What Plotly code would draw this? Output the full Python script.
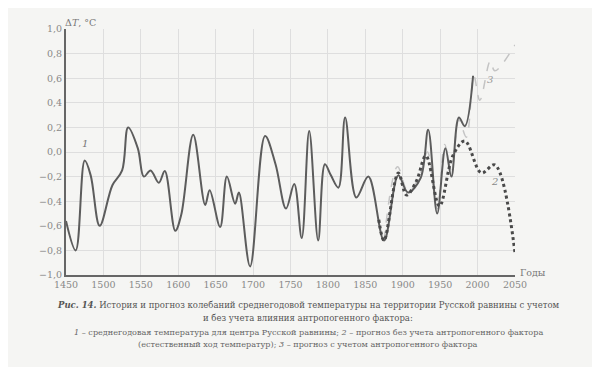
import plotly.graph_objects as go

# Curve 1: observed mean annual temperature (centre of Russian Plain)
years_obs = [1450, 1463, 1475, 1483, 1495, 1512, 1525, 1533, 1546, 1554, 1563, 1574, 1582,
             1596, 1604, 1620, 1636, 1642, 1656, 1665, 1676, 1681, 1696, 1716, 1730, 1744,
             1755, 1765, 1775, 1787, 1796, 1804, 1814, 1823, 1838, 1854, 1875, 1894, 1907,
             1924, 1934, 1946, 1957, 1965, 1975, 1983, 1994]
temp_obs = [-0.56, -0.80, -0.07, -0.19, -0.60, -0.27, -0.15, 0.20, 0.03, -0.20, -0.15, -0.25, -0.155,
            -0.64, -0.51, 0.14, -0.43, -0.31, -0.61, -0.20, -0.42, -0.33, -0.93, 0.13, -0.10, -0.46,
            -0.26, -0.70, 0.17, -0.72, -0.10, -0.19, -0.29, 0.28, -0.37, -0.20, -0.72, -0.19, -0.33,
            -0.21, 0.18, -0.50, 0.03, -0.20, 0.28, 0.21, 0.62]

# Curve 2: forecast without anthropogenic factor
years_nat = [1868, 1875, 1894, 1905, 1918, 1931, 1949, 1967, 1983, 2005, 2023, 2050]
temp_nat = [-0.55, -0.72, -0.17, -0.35, -0.24, -0.03, -0.44, -0.03, 0.09, -0.17, -0.105, -0.82]

# Curve 3: forecast with anthropogenic factor
years_ant = [1875, 1893, 1907, 1922, 1933, 1946, 1956, 1965, 1975, 1985, 1995, 2003, 2017, 2023, 2050]
temp_ant = [-0.72, -0.12, -0.32, -0.20, 0.00, -0.46, 0.06, -0.15, 0.26, 0.12, 0.62, 0.42, 0.74, 0.66, 0.87]

x_ticks = list(range(1450, 2051, 50))
y_ticks = [-1.0, -0.8, -0.6, -0.4, -0.2, 0.0, 0.2, 0.4, 0.6, 0.8, 1.0]
y_ticktext = ["\u22121,0", "\u22120,8", "\u22120,6", "\u22120,4", "\u22120,2", "0,0",
              "0,2", "0,4", "0,6", "0,8", "1,0"]

FONT = "DejaVu Serif"

fig = go.Figure()
fig.add_trace(go.Scatter(x=years_ant, y=temp_ant, mode="lines",
                         line=dict(color="#c4c4c4", width=1.5, dash="dash", shape="spline"),
                         hoverinfo="skip"))
fig.add_trace(go.Scatter(x=years_obs, y=temp_obs, mode="lines",
                         line=dict(color="#5c5c5c", width=2, shape="spline"),
                         hoverinfo="skip"))
fig.add_trace(go.Scatter(x=years_nat, y=temp_nat, mode="lines",
                         line=dict(color="#4a4a4a", width=3, dash="dot", shape="spline"),
                         hoverinfo="skip"))

annotations = [
    dict(x=1476, y=0.07, xref="x", yref="y", text="<i>1</i>", showarrow=False,
         font=dict(family=FONT, size=10, color="#777")),
    dict(x=2022, y=-0.24, xref="x", yref="y", text="<i>2</i>", showarrow=False,
         font=dict(family=FONT, size=10, color="#888")),
    dict(x=2017, y=0.59, xref="x", yref="y", text="<i>3</i>", showarrow=False,
         font=dict(family=FONT, size=10, color="#999")),
    dict(x=-0.007, y=1.057, xref="paper", yref="paper", text="\u0394<i>T</i>, \u00b0C",
         showarrow=False, font=dict(family=FONT, size=9.5, color="#777")),
    dict(x=1.073, y=-0.02, xref="paper", yref="paper", text="Годы",
         showarrow=False, font=dict(family=FONT, size=9.5, color="#777")),
    dict(x=0.539, y=-0.150, xref="paper", yref="paper",
         text="<b><i>Рис. 14.</i></b> История и прогноз колебаний среднегодовой температуры на территории Русской равнины с учетом",
         showarrow=False, font=dict(family=FONT, size=8.5, color="#555")),
    dict(x=0.539, y=-0.203, xref="paper", yref="paper",
         text="и без учета влияния антропогенного фактора:",
         showarrow=False, font=dict(family=FONT, size=8.5, color="#555")),
    dict(x=0.539, y=-0.260, xref="paper", yref="paper",
         text="<i>1</i> – среднегодовая температура для центра Русской равнины; <i>2</i> – прогноз без учета антропогенного фактора",
         showarrow=False, font=dict(family=FONT, size=8.1, color="#666")),
    dict(x=0.539, y=-0.309, xref="paper", yref="paper",
         text="(естественный ход температур); <i>3</i> – прогноз с учетом антропогенного фактора",
         showarrow=False, font=dict(family=FONT, size=8.1, color="#666")),
]

fig.update_layout(
    width=600, height=367,
    margin=dict(l=58, r=93, t=21, b=100),
    paper_bgcolor="#f5f5f3", plot_bgcolor="#f5f5f3",
    showlegend=False,
    annotations=annotations,
    font=dict(family=FONT, size=9.5, color="#777"),
)
fig.update_xaxes(range=[1450, 2050], tickvals=x_ticks, showgrid=True, gridcolor="#dedede",
                 gridwidth=1, showline=True, linecolor="#666", linewidth=2, zeroline=False,
                 ticks="", tickfont=dict(family=FONT, size=9.5, color="#888"))
fig.update_yaxes(range=[-1, 1], tickvals=y_ticks, ticktext=y_ticktext, showgrid=True,
                 gridcolor="#dedede", gridwidth=1, showline=True, linecolor="#666",
                 linewidth=2, zeroline=False, ticks="",
                 tickfont=dict(family=FONT, size=9.5, color="#888"))

fig.write_html("out.html")
